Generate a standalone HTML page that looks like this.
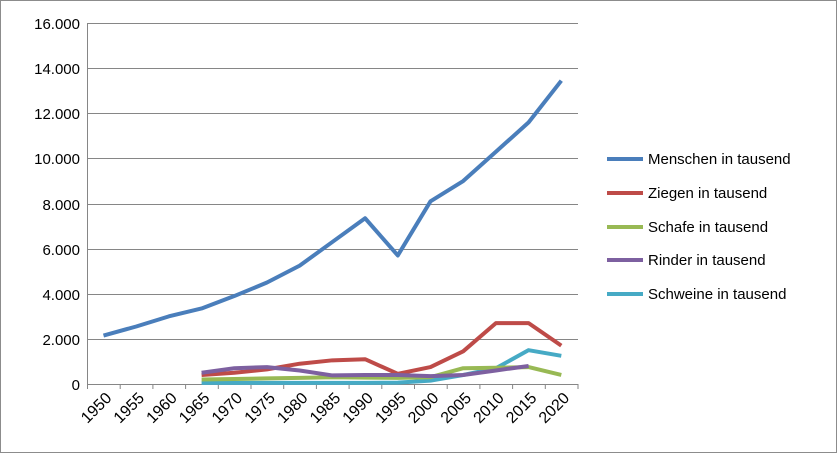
<!DOCTYPE html>
<html><head><meta charset="utf-8"><style>
body{margin:0;background:#fff}
svg{display:block;font-family:"Liberation Sans",Arial,sans-serif}
</style></head><body>
<svg width="838" height="454" viewBox="0 0 838 454" xmlns="http://www.w3.org/2000/svg">
<rect x="0.5" y="0.5" width="836" height="452" fill="#fff" stroke="#8c8c8c"/>
<g stroke="#868686" stroke-width="1">
<line x1="88" y1="23.5" x2="578" y2="23.5"/>
<line x1="88" y1="68.5" x2="578" y2="68.5"/>
<line x1="88" y1="113.5" x2="578" y2="113.5"/>
<line x1="88" y1="158.5" x2="578" y2="158.5"/>
<line x1="88" y1="204.5" x2="578" y2="204.5"/>
<line x1="88" y1="249.5" x2="578" y2="249.5"/>
<line x1="88" y1="294.5" x2="578" y2="294.5"/>
<line x1="88" y1="339.5" x2="578" y2="339.5"/>
<line x1="88" y1="384.5" x2="578" y2="384.5"/>
<line x1="87.5" y1="23" x2="87.5" y2="389"/>
</g>
<g stroke="#868686" id="ticks"></g>
<g font-size="15" fill="#000" text-anchor="end">
<text x="80" y="29">16.000</text><text x="80" y="74">14.000</text><text x="80" y="119">12.000</text>
<text x="80" y="164">10.000</text><text x="80" y="210">8.000</text><text x="80" y="255">6.000</text>
<text x="80" y="300">4.000</text><text x="80" y="345">2.000</text><text x="80" y="390">0</text>
</g>
<g id="xl" font-size="16" text-anchor="end"></g>
<g fill="none" stroke-width="4" stroke-linejoin="round" id="series"></g>
<g font-size="15" fill="#000">
<line x1="607" y1="159" x2="643" y2="159" stroke="#4a7ebb" stroke-width="4"/><text x="648" y="164">Menschen in tausend</text>
<line x1="607" y1="193" x2="643" y2="193" stroke="#be4b48" stroke-width="4"/><text x="648" y="198">Ziegen  in tausend</text>
<line x1="607" y1="227" x2="643" y2="227" stroke="#98b954" stroke-width="4"/><text x="648" y="232">Schafe in tausend</text>
<line x1="607" y1="260" x2="643" y2="260" stroke="#7d60a0" stroke-width="4"/><text x="648" y="265">Rinder in tausend</text>
<line x1="607" y1="294" x2="643" y2="294" stroke="#46aac5" stroke-width="4"/><text x="648" y="299">Schweine in tausend</text>
</g>
</svg>
<script>
const ns="http://www.w3.org/2000/svg";
const X=i=>103.5+i*32.7, Y=v=>384-v*0.02255;
const t=document.getElementById('ticks'),xl=document.getElementById('xl');
for(let i=0;i<=15;i++){const l=document.createElementNS(ns,'line');const x=87.5+i*32.7;l.setAttribute('x1',x);l.setAttribute('x2',x);l.setAttribute('y1',384);l.setAttribute('y2',389);t.appendChild(l);}
for(let i=0;i<15;i++){const tx=document.createElementNS(ns,'text');const x=X(i)+9,y=399;tx.setAttribute('x',x);tx.setAttribute('y',y);tx.setAttribute('transform',`rotate(-45 ${x} ${y})`);tx.textContent=1950+5*i;xl.appendChild(tx);}
const S=[
["#46aac5",3,[50,50,50,50,50,50,60,150,400,700,1500,1250]],
["#98b954",3,[200,220,250,270,300,280,270,300,700,720,750,400]],
["#be4b48",3,[400,500,650,900,1050,1100,450,750,1450,2700,2700,1700]],
["#7d60a0",3,[500,700,750,600,380,400,400,350,400,600,800]],
["#4a7ebb",0,[2150,2550,3000,3350,3900,4500,5250,6300,7350,5700,8100,9000,10300,11600,13450]]];
const g=document.getElementById('series');
for(const [c,o,d] of S){const p=document.createElementNS(ns,'polyline');p.setAttribute('stroke',c);p.setAttribute('points',d.map((v,i)=>X(i+o)+','+Y(v)).join(' '));g.appendChild(p);}
</script>
</body></html>
